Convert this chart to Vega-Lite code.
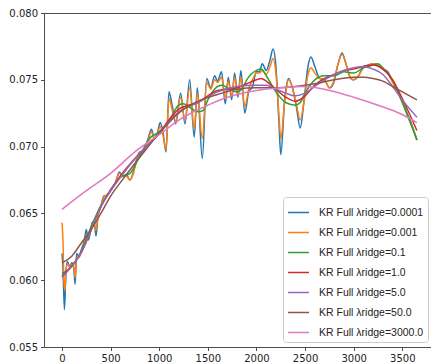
{
  "$schema": "https://vega.github.io/schema/vega-lite/v6.json",
  "width": 387,
  "height": 334,
  "autosize": {"type": "none"},
  "padding": {"left": 44, "top": 13, "right": 0, "bottom": 16},
  "background": "white",
  "config": {
    "view": {"stroke": null},
    "font": "DejaVu Sans",
    "axis": {"labelFont": "DejaVu Sans", "labelFontSize": 10, "labelColor": "#222", "domainColor": "#222", "tickColor": "#222", "domainWidth": 0.8, "tickWidth": 0.8, "tickSize": 3.5, "grid": false, "title": null, "labelPadding": 3}
  },
  "data": {"values": [
    {"l":"0.0001","x":0,"y":0.0620},{"l":"0.0001","x":10,"y":0.0610},{"l":"0.0001","x":25,"y":0.0578},{"l":"0.0001","x":40,"y":0.0605},{"l":"0.0001","x":55,"y":0.0614},{"l":"0.0001","x":80,"y":0.0610},{"l":"0.0001","x":100,"y":0.0613},{"l":"0.0001","x":120,"y":0.0610},{"l":"0.0001","x":135,"y":0.0597},{"l":"0.0001","x":150,"y":0.0620},{"l":"0.0001","x":175,"y":0.0618},{"l":"0.0001","x":200,"y":0.0623},{"l":"0.0001","x":230,"y":0.0630},{"l":"0.0001","x":250,"y":0.0638},{"l":"0.0001","x":270,"y":0.0630},{"l":"0.0001","x":290,"y":0.0635},{"l":"0.0001","x":310,"y":0.0643},{"l":"0.0001","x":330,"y":0.0644},{"l":"0.0001","x":350,"y":0.0633},{"l":"0.0001","x":370,"y":0.0648},{"l":"0.0001","x":400,"y":0.0655},{"l":"0.0001","x":430,"y":0.0663},{"l":"0.0001","x":460,"y":0.0663},{"l":"0.0001","x":500,"y":0.0668},{"l":"0.0001","x":550,"y":0.0673},{"l":"0.0001","x":590,"y":0.0681},{"l":"0.0001","x":620,"y":0.0678},{"l":"0.0001","x":660,"y":0.0679},{"l":"0.0001","x":700,"y":0.0675},{"l":"0.0001","x":730,"y":0.0680},{"l":"0.0001","x":770,"y":0.0691},{"l":"0.0001","x":800,"y":0.0696},{"l":"0.0001","x":830,"y":0.0696},{"l":"0.0001","x":860,"y":0.0700},{"l":"0.0001","x":890,"y":0.0707},{"l":"0.0001","x":920,"y":0.0713},{"l":"0.0001","x":950,"y":0.0706},{"l":"0.0001","x":980,"y":0.0710},{"l":"0.0001","x":1010,"y":0.0718},{"l":"0.0001","x":1040,"y":0.0710},{"l":"0.0001","x":1070,"y":0.0696},{"l":"0.0001","x":1100,"y":0.0741},{"l":"0.0001","x":1135,"y":0.0730},{"l":"0.0001","x":1170,"y":0.0717},{"l":"0.0001","x":1220,"y":0.0740},{"l":"0.0001","x":1265,"y":0.0717},{"l":"0.0001","x":1313,"y":0.0750},{"l":"0.0001","x":1360,"y":0.0707},{"l":"0.0001","x":1392,"y":0.0744},{"l":"0.0001","x":1443,"y":0.0691},{"l":"0.0001","x":1488,"y":0.0751},{"l":"0.0001","x":1530,"y":0.0744},{"l":"0.0001","x":1570,"y":0.0753},{"l":"0.0001","x":1600,"y":0.0749},{"l":"0.0001","x":1640,"y":0.0756},{"l":"0.0001","x":1680,"y":0.0732},{"l":"0.0001","x":1710,"y":0.0752},{"l":"0.0001","x":1745,"y":0.0735},{"l":"0.0001","x":1775,"y":0.0755},{"l":"0.0001","x":1810,"y":0.0737},{"l":"0.0001","x":1840,"y":0.0757},{"l":"0.0001","x":1880,"y":0.0725},{"l":"0.0001","x":1920,"y":0.0741},{"l":"0.0001","x":1960,"y":0.0745},{"l":"0.0001","x":2000,"y":0.0756},{"l":"0.0001","x":2030,"y":0.0756},{"l":"0.0001","x":2060,"y":0.0762},{"l":"0.0001","x":2100,"y":0.0757},{"l":"0.0001","x":2140,"y":0.0765},{"l":"0.0001","x":2170,"y":0.0773},{"l":"0.0001","x":2200,"y":0.0760},{"l":"0.0001","x":2230,"y":0.0720},{"l":"0.0001","x":2250,"y":0.0694},{"l":"0.0001","x":2290,"y":0.0735},{"l":"0.0001","x":2330,"y":0.0751},{"l":"0.0001","x":2370,"y":0.0744},{"l":"0.0001","x":2410,"y":0.0730},{"l":"0.0001","x":2450,"y":0.0714},{"l":"0.0001","x":2490,"y":0.0735},{"l":"0.0001","x":2530,"y":0.0760},{"l":"0.0001","x":2560,"y":0.0767},{"l":"0.0001","x":2600,"y":0.0760},{"l":"0.0001","x":2650,"y":0.0751},{"l":"0.0001","x":2700,"y":0.0750},{"l":"0.0001","x":2750,"y":0.0744},{"l":"0.0001","x":2790,"y":0.0747},{"l":"0.0001","x":2840,"y":0.0762},{"l":"0.0001","x":2880,"y":0.0770},{"l":"0.0001","x":2920,"y":0.0762},{"l":"0.0001","x":2970,"y":0.0751},{"l":"0.0001","x":3000,"y":0.0750},{"l":"0.0001","x":3050,"y":0.0753},{"l":"0.0001","x":3100,"y":0.0760},{"l":"0.0001","x":3150,"y":0.0761},{"l":"0.0001","x":3200,"y":0.0762},{"l":"0.0001","x":3250,"y":0.0761},{"l":"0.0001","x":3300,"y":0.0758},{"l":"0.0001","x":3350,"y":0.0756},{"l":"0.0001","x":3400,"y":0.0749},{"l":"0.0001","x":3450,"y":0.0742},{"l":"0.0001","x":3500,"y":0.0734},{"l":"0.0001","x":3550,"y":0.0725},{"l":"0.0001","x":3600,"y":0.0716},{"l":"0.0001","x":3650,"y":0.0705},

    {"l":"0.001","x":0,"y":0.0643},{"l":"0.001","x":10,"y":0.0630},{"l":"0.001","x":20,"y":0.0600},{"l":"0.001","x":30,"y":0.0592},{"l":"0.001","x":40,"y":0.0605},{"l":"0.001","x":55,"y":0.0612},{"l":"0.001","x":80,"y":0.0610},{"l":"0.001","x":100,"y":0.0612},{"l":"0.001","x":120,"y":0.0610},{"l":"0.001","x":135,"y":0.0602},{"l":"0.001","x":150,"y":0.0617},{"l":"0.001","x":175,"y":0.0617},{"l":"0.001","x":200,"y":0.0621},{"l":"0.001","x":230,"y":0.0628},{"l":"0.001","x":250,"y":0.0634},{"l":"0.001","x":270,"y":0.0632},{"l":"0.001","x":290,"y":0.0636},{"l":"0.001","x":310,"y":0.0642},{"l":"0.001","x":330,"y":0.0642},{"l":"0.001","x":350,"y":0.0637},{"l":"0.001","x":370,"y":0.0648},{"l":"0.001","x":400,"y":0.0655},{"l":"0.001","x":430,"y":0.0662},{"l":"0.001","x":460,"y":0.0664},{"l":"0.001","x":500,"y":0.0667},{"l":"0.001","x":550,"y":0.0673},{"l":"0.001","x":590,"y":0.0680},{"l":"0.001","x":620,"y":0.0678},{"l":"0.001","x":660,"y":0.0678},{"l":"0.001","x":700,"y":0.0675},{"l":"0.001","x":730,"y":0.0679},{"l":"0.001","x":770,"y":0.0690},{"l":"0.001","x":800,"y":0.0695},{"l":"0.001","x":830,"y":0.0697},{"l":"0.001","x":860,"y":0.0701},{"l":"0.001","x":890,"y":0.0706},{"l":"0.001","x":920,"y":0.0711},{"l":"0.001","x":950,"y":0.0706},{"l":"0.001","x":980,"y":0.0709},{"l":"0.001","x":1010,"y":0.0715},{"l":"0.001","x":1040,"y":0.0708},{"l":"0.001","x":1070,"y":0.0698},{"l":"0.001","x":1100,"y":0.0736},{"l":"0.001","x":1135,"y":0.0727},{"l":"0.001","x":1170,"y":0.0719},{"l":"0.001","x":1220,"y":0.0737},{"l":"0.001","x":1265,"y":0.0720},{"l":"0.001","x":1313,"y":0.0744},{"l":"0.001","x":1360,"y":0.0713},{"l":"0.001","x":1392,"y":0.0740},{"l":"0.001","x":1443,"y":0.0706},{"l":"0.001","x":1488,"y":0.0748},{"l":"0.001","x":1530,"y":0.0743},{"l":"0.001","x":1570,"y":0.0750},{"l":"0.001","x":1600,"y":0.0748},{"l":"0.001","x":1640,"y":0.0752},{"l":"0.001","x":1680,"y":0.0736},{"l":"0.001","x":1710,"y":0.0749},{"l":"0.001","x":1745,"y":0.0738},{"l":"0.001","x":1775,"y":0.0752},{"l":"0.001","x":1810,"y":0.0739},{"l":"0.001","x":1840,"y":0.0752},{"l":"0.001","x":1880,"y":0.0730},{"l":"0.001","x":1920,"y":0.0743},{"l":"0.001","x":1960,"y":0.0750},{"l":"0.001","x":2000,"y":0.0755},{"l":"0.001","x":2030,"y":0.0755},{"l":"0.001","x":2060,"y":0.0757},{"l":"0.001","x":2100,"y":0.0754},{"l":"0.001","x":2140,"y":0.0760},{"l":"0.001","x":2170,"y":0.0766},{"l":"0.001","x":2200,"y":0.0755},{"l":"0.001","x":2230,"y":0.0725},{"l":"0.001","x":2250,"y":0.0706},{"l":"0.001","x":2290,"y":0.0733},{"l":"0.001","x":2330,"y":0.0750},{"l":"0.001","x":2370,"y":0.0744},{"l":"0.001","x":2410,"y":0.0732},{"l":"0.001","x":2450,"y":0.0720},{"l":"0.001","x":2490,"y":0.0734},{"l":"0.001","x":2530,"y":0.0754},{"l":"0.001","x":2560,"y":0.0759},{"l":"0.001","x":2600,"y":0.0755},{"l":"0.001","x":2650,"y":0.0751},{"l":"0.001","x":2700,"y":0.0750},{"l":"0.001","x":2750,"y":0.0744},{"l":"0.001","x":2790,"y":0.0748},{"l":"0.001","x":2840,"y":0.0762},{"l":"0.001","x":2880,"y":0.0769},{"l":"0.001","x":2920,"y":0.0762},{"l":"0.001","x":2970,"y":0.0751},{"l":"0.001","x":3000,"y":0.0750},{"l":"0.001","x":3050,"y":0.0753},{"l":"0.001","x":3100,"y":0.0759},{"l":"0.001","x":3150,"y":0.0761},{"l":"0.001","x":3200,"y":0.0762},{"l":"0.001","x":3250,"y":0.0761},{"l":"0.001","x":3300,"y":0.0758},{"l":"0.001","x":3350,"y":0.0755},{"l":"0.001","x":3400,"y":0.0748},{"l":"0.001","x":3450,"y":0.0741},{"l":"0.001","x":3500,"y":0.0733},{"l":"0.001","x":3550,"y":0.0724},{"l":"0.001","x":3600,"y":0.0715},{"l":"0.001","x":3650,"y":0.0705},

    {"l":"0.1","x":0,"y":0.0605},{"l":"0.1","x":100,"y":0.0610},{"l":"0.1","x":200,"y":0.0622},{"l":"0.1","x":300,"y":0.0640},{"l":"0.1","x":400,"y":0.0656},{"l":"0.1","x":500,"y":0.0667},{"l":"0.1","x":600,"y":0.0677},{"l":"0.1","x":700,"y":0.0680},{"l":"0.1","x":800,"y":0.0693},{"l":"0.1","x":900,"y":0.0706},{"l":"0.1","x":1000,"y":0.0711},{"l":"0.1","x":1100,"y":0.0719},{"l":"0.1","x":1200,"y":0.0731},{"l":"0.1","x":1250,"y":0.0732},{"l":"0.1","x":1300,"y":0.0730},{"l":"0.1","x":1400,"y":0.0726},{"l":"0.1","x":1450,"y":0.0727},{"l":"0.1","x":1500,"y":0.0735},{"l":"0.1","x":1600,"y":0.0745},{"l":"0.1","x":1650,"y":0.0746},{"l":"0.1","x":1700,"y":0.0744},{"l":"0.1","x":1800,"y":0.0741},{"l":"0.1","x":1850,"y":0.0743},{"l":"0.1","x":1900,"y":0.0750},{"l":"0.1","x":2000,"y":0.0757},{"l":"0.1","x":2050,"y":0.0758},{"l":"0.1","x":2100,"y":0.0753},{"l":"0.1","x":2200,"y":0.0741},{"l":"0.1","x":2300,"y":0.0733},{"l":"0.1","x":2400,"y":0.0731},{"l":"0.1","x":2450,"y":0.0733},{"l":"0.1","x":2500,"y":0.0740},{"l":"0.1","x":2600,"y":0.0750},{"l":"0.1","x":2700,"y":0.0753},{"l":"0.1","x":2800,"y":0.0753},{"l":"0.1","x":2900,"y":0.0756},{"l":"0.1","x":3000,"y":0.0755},{"l":"0.1","x":3100,"y":0.0759},{"l":"0.1","x":3200,"y":0.0761},{"l":"0.1","x":3250,"y":0.0762},{"l":"0.1","x":3300,"y":0.0759},{"l":"0.1","x":3400,"y":0.0750},{"l":"0.1","x":3500,"y":0.0733},{"l":"0.1","x":3650,"y":0.0705},

    {"l":"1.0","x":0,"y":0.0603},{"l":"1.0","x":200,"y":0.0621},{"l":"1.0","x":400,"y":0.0655},{"l":"1.0","x":600,"y":0.0678},{"l":"1.0","x":800,"y":0.0695},{"l":"1.0","x":1000,"y":0.0710},{"l":"1.0","x":1100,"y":0.0720},{"l":"1.0","x":1200,"y":0.0728},{"l":"1.0","x":1300,"y":0.0731},{"l":"1.0","x":1400,"y":0.0733},{"l":"1.0","x":1500,"y":0.0738},{"l":"1.0","x":1600,"y":0.0742},{"l":"1.0","x":1700,"y":0.0743},{"l":"1.0","x":1800,"y":0.0744},{"l":"1.0","x":1900,"y":0.0747},{"l":"1.0","x":2000,"y":0.0750},{"l":"1.0","x":2050,"y":0.0751},{"l":"1.0","x":2100,"y":0.0749},{"l":"1.0","x":2200,"y":0.0743},{"l":"1.0","x":2300,"y":0.0737},{"l":"1.0","x":2400,"y":0.0734},{"l":"1.0","x":2500,"y":0.0738},{"l":"1.0","x":2600,"y":0.0746},{"l":"1.0","x":2700,"y":0.0751},{"l":"1.0","x":2800,"y":0.0754},{"l":"1.0","x":2900,"y":0.0757},{"l":"1.0","x":3000,"y":0.0758},{"l":"1.0","x":3100,"y":0.0760},{"l":"1.0","x":3200,"y":0.0761},{"l":"1.0","x":3300,"y":0.0758},{"l":"1.0","x":3400,"y":0.0750},{"l":"1.0","x":3500,"y":0.0736},{"l":"1.0","x":3650,"y":0.0712},

    {"l":"5.0","x":0,"y":0.0602},{"l":"5.0","x":200,"y":0.0621},{"l":"5.0","x":400,"y":0.0655},{"l":"5.0","x":600,"y":0.0677},{"l":"5.0","x":800,"y":0.0695},{"l":"5.0","x":1000,"y":0.0710},{"l":"5.0","x":1200,"y":0.0726},{"l":"5.0","x":1400,"y":0.0733},{"l":"5.0","x":1600,"y":0.0741},{"l":"5.0","x":1800,"y":0.0745},{"l":"5.0","x":2000,"y":0.0746},{"l":"5.0","x":2100,"y":0.0746},{"l":"5.0","x":2200,"y":0.0743},{"l":"5.0","x":2300,"y":0.0740},{"l":"5.0","x":2400,"y":0.0738},{"l":"5.0","x":2500,"y":0.0740},{"l":"5.0","x":2600,"y":0.0745},{"l":"5.0","x":2700,"y":0.0750},{"l":"5.0","x":2800,"y":0.0754},{"l":"5.0","x":2900,"y":0.0757},{"l":"5.0","x":3000,"y":0.0759},{"l":"5.0","x":3100,"y":0.0760},{"l":"5.0","x":3200,"y":0.0758},{"l":"5.0","x":3300,"y":0.0754},{"l":"5.0","x":3400,"y":0.0745},{"l":"5.0","x":3500,"y":0.0735},{"l":"5.0","x":3650,"y":0.0722},

    {"l":"50.0","x":0,"y":0.0613},{"l":"50.0","x":100,"y":0.0618},{"l":"50.0","x":200,"y":0.0628},{"l":"50.0","x":300,"y":0.0638},{"l":"50.0","x":400,"y":0.0650},{"l":"50.0","x":500,"y":0.0663},{"l":"50.0","x":600,"y":0.0673},{"l":"50.0","x":800,"y":0.0692},{"l":"50.0","x":1000,"y":0.0710},{"l":"50.0","x":1200,"y":0.0725},{"l":"50.0","x":1400,"y":0.0734},{"l":"50.0","x":1600,"y":0.0739},{"l":"50.0","x":1800,"y":0.0743},{"l":"50.0","x":2000,"y":0.0744},{"l":"50.0","x":2200,"y":0.0744},{"l":"50.0","x":2400,"y":0.0745},{"l":"50.0","x":2600,"y":0.0747},{"l":"50.0","x":2800,"y":0.0750},{"l":"50.0","x":3000,"y":0.0752},{"l":"50.0","x":3100,"y":0.0752},{"l":"50.0","x":3200,"y":0.0751},{"l":"50.0","x":3300,"y":0.0749},{"l":"50.0","x":3400,"y":0.0745},{"l":"50.0","x":3500,"y":0.0741},{"l":"50.0","x":3650,"y":0.0735},

    {"l":"3000.0","x":0,"y":0.0653},{"l":"3000.0","x":250,"y":0.0667},{"l":"3000.0","x":500,"y":0.0680},{"l":"3000.0","x":750,"y":0.0696},{"l":"3000.0","x":1000,"y":0.0709},{"l":"3000.0","x":1250,"y":0.0722},{"l":"3000.0","x":1500,"y":0.0731},{"l":"3000.0","x":1750,"y":0.0738},{"l":"3000.0","x":2000,"y":0.0742},{"l":"3000.0","x":2250,"y":0.0744},{"l":"3000.0","x":2500,"y":0.0745},{"l":"3000.0","x":2750,"y":0.0742},{"l":"3000.0","x":3000,"y":0.0737},{"l":"3000.0","x":3250,"y":0.0731},{"l":"3000.0","x":3500,"y":0.0724},{"l":"3000.0","x":3650,"y":0.0718}
  ]},
  "layer": [
    {
      "mark": {"type": "line", "strokeWidth": 1.5, "interpolate": "monotone"},
      "encoding": {
        "x": {"field": "x", "type": "quantitative", "scale": {"domain": [-185, 3795], "nice": false, "zero": false},
              "axis": {"orient": "bottom", "values": [0, 500, 1000, 1500, 2000, 2500, 3000, 3500], "format": "d"}},
        "y": {"field": "y", "type": "quantitative", "scale": {"domain": [0.055, 0.080], "nice": false, "zero": false},
              "axis": {"orient": "left", "values": [0.055, 0.060, 0.065, 0.070, 0.075, 0.080], "format": ".3f"}},
        "color": {"field": "l", "type": "nominal",
                  "scale": {"domain": ["0.0001", "0.001", "0.1", "1.0", "5.0", "50.0", "3000.0"],
                            "range": ["#1f77b4", "#ff7f0e", "#2ca02c", "#d62728", "#9467bd", "#8c564b", "#e377c2"]},
                  "legend": {"orient": "none", "legendX": 239, "legendY": 184, "title": null,
                             "labelExpr": "'KR Full λridge=' + datum.label",
                             "symbolType": "stroke", "symbolStrokeWidth": 1.5, "symbolSize": 441,
                             "labelFont": "Liberation Sans", "labelFontSize": 10.5, "labelColor": "#222", "labelOffset": 9,
                             "rowPadding": 3, "padding": 4, "strokeColor": "#cccccc", "fillColor": "white", "cornerRadius": 3}},
        "order": {"field": "x", "type": "quantitative"}
      }
    },
    {
      "mark": {"type": "line", "opacity": 0},
      "encoding": {
        "x": {"field": "x", "type": "quantitative", "axis": {"orient": "top", "labels": false, "ticks": false}},
        "y": {"field": "y", "type": "quantitative"}
      }
    }
  ],
  "resolve": {"axis": {"x": "independent"}}
}
